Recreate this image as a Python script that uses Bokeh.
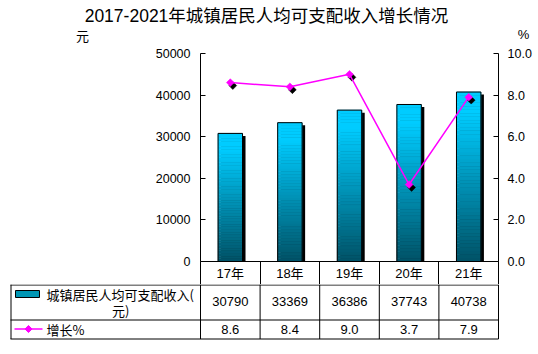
import math
from bokeh.plotting import figure
from bokeh.layouts import column
from bokeh.models import (Range1d, LinearAxis, FixedTicker, NumeralTickFormatter,
                          ColumnDataSource)
from bokeh.transform import dodge
from bokeh.core.properties import value
from bokeh.embed import file_html
from bokeh.resources import INLINE

# ---------------- data ----------------
title_text = "2017-2021年城镇居民人均可支配收入增长情况"
years = ["17年", "18年", "19年", "20年", "21年"]
income = [30790, 33369, 36386, 37743, 40738]
growth = [8.6, 8.4, 9.0, 3.7, 7.9]
income_ticks = [0, 10000, 20000, 30000, 40000, 50000]
growth_ticks = [0, 2, 4, 6, 8, 10]
income_name = "城镇居民人均可支配收入(元)"
growth_name = "增长%"
left_unit = "元"
right_unit = "%"

# ---------------- layout ----------------
W, H = 538, 354
TOPH = 44                       # header strip height
PL, PR, PT, PB, HB = 200, 498, 53, 261, 284
N = len(years)
COLW = (PR - PL) / N
YMAX = income_ticks[-1]
GMAX = growth_ticks[-1]
FH = PB - PT

def px2x(px):
    return -0.5 + (px - PL) / COLW

LATIN = "Liberation Sans, Noto Sans CJK SC"
CJK = "Noto Sans CJK SC"

def bare(fig):
    fig.xgrid.visible = False
    fig.ygrid.visible = False
    fig.background_fill_color = "white"
    fig.border_fill_color = "white"
    return fig

# ---------------- header strip ----------------
hdr = bare(figure(width=W, height=TOPH, x_range=Range1d(0, W), y_range=Range1d(TOPH, 0),
                  min_border=0, min_border_left=0, min_border_right=0, min_border_top=0,
                  min_border_bottom=0, toolbar_location=None, output_backend="svg",
                  x_axis_location=None, y_axis_location=None, outline_line_color=None,
                  frame_align=False))
hdr.text(x=[266], y=[15], text=[title_text], text_font=value(LATIN), text_font_size="17.5px",
         text_align="center", text_baseline="middle", text_color="black")
hdr.text(x=[82], y=[35], text=[left_unit], text_font=value(CJK), text_font_size="13px",
         text_align="center", text_baseline="middle", text_color="black")
hdr.text(x=[523], y=[34], text=[right_unit], text_font=value(LATIN), text_font_size="13px",
         text_align="center", text_baseline="middle", text_color="black")

# ---------------- chart ----------------
xs = list(range(N))
src = ColumnDataSource(dict(x=xs, top=income, g=growth))

p = bare(figure(width=W, height=HB - TOPH, x_range=Range1d(-0.5, N - 0.5),
                y_range=Range1d(0, YMAX),
                min_border_left=PL, min_border_right=W - PR, min_border_top=PT - TOPH,
                min_border_bottom=HB - PB, toolbar_location=None, output_backend="svg",
                x_axis_location=None, y_axis_location=None, outline_line_color=None,
                frame_align=False))
p.extra_y_ranges = {"pct": Range1d(0, GMAX)}

def style_axis(ax, standoff):
    ax.major_tick_in = 5
    ax.major_tick_out = 0
    ax.minor_tick_in = 0
    ax.minor_tick_out = 0
    ax.major_label_standoff = standoff
    ax.major_label_text_font = LATIN
    ax.major_label_text_font_size = "12.5px"
    ax.major_label_text_color = "black"
    ax.axis_line_color = "black"
    ax.major_tick_line_color = "black"

la = LinearAxis(ticker=FixedTicker(ticks=income_ticks, minor_ticks=[]),
                formatter=NumeralTickFormatter(format="0"))
style_axis(la, 10)
p.add_layout(la, "left")

ra = LinearAxis(y_range_name="pct", ticker=FixedTicker(ticks=growth_ticks, minor_ticks=[]),
                formatter=NumeralTickFormatter(format="0.0"))
style_axis(ra, 9)
p.add_layout(ra, "right")

ba = LinearAxis(ticker=FixedTicker(ticks=xs, minor_ticks=[i - 0.5 for i in range(N + 1)]),
                major_label_overrides={i: y for i, y in enumerate(years)})
ba.major_tick_in = 0
ba.major_tick_out = 0
ba.minor_tick_in = 0
ba.minor_tick_out = HB - PB
ba.minor_tick_line_color = "black"
ba.axis_line_color = "black"
ba.major_label_standoff = -(HB - PB) + 4
ba.major_label_text_font = LATIN
ba.major_label_text_font_size = "13px"
ba.major_label_text_color = "black"
p.add_layout(ba, "below")

# ---- bars: shadow, gradient, outline ----
BW = 0.41
p.vbar(x=dodge("x", 3 / COLW), top=dodge("top", -2.5 * YMAX / FH), bottom=0, width=BW,
       source=src, fill_color="black", line_color=None)

NS = 48
top_c = (0, 204, 255)
bot_c = (0, 82, 102)
gx, gb, gt, gc = [], [], [], []
for i, v in enumerate(income):
    for k in range(NS):
        tpos = 1 - (k + 0.5) / NS  # 0 at top, 1 at bottom
        tt = max(0.0, (tpos - 0.12) / 0.88)
        c = tuple(int(round(top_c[j] + (bot_c[j] - top_c[j]) * tt)) for j in range(3))
        gx.append(i)
        gb.append(v * k / NS)
        gt.append(v * (k + 1) / NS)
        gc.append("#%02x%02x%02x" % c)
p.vbar(x=gx, bottom=gb, top=gt, width=BW, fill_color=gc, line_color=gc, line_width=0.6)
p.vbar(x="x", top="top", bottom=0, width=BW, source=src, fill_color=None,
       line_color="black", line_width=1)

# ---- growth line ----
MS = 5.5
p.scatter(x=dodge("x", 2.5 / COLW), y=dodge("g", -3 * GMAX / FH), source=src,
          y_range_name="pct", marker="square", angle=math.pi / 4, size=MS,
          fill_color="black", line_color="black", line_width=0.5)
p.line(x="x", y="g", source=src, y_range_name="pct", line_color="#FF00FF", line_width=1.5)
p.scatter(x="x", y="g", source=src, y_range_name="pct", marker="square",
          angle=math.pi / 4, size=MS, fill_color="#FF00FF", line_color="#FF00FF",
          line_width=0.5)

# ---------------- table ----------------
TH = H - HB
t = bare(figure(width=W, height=TH, x_range=Range1d(px2x(0), px2x(W)), y_range=Range1d(TH, 0),
                min_border=0, min_border_left=0, min_border_right=0, min_border_top=0,
                min_border_bottom=0, toolbar_location=None, output_backend="svg",
                x_axis_location=None, y_axis_location=None, outline_line_color=None,
                frame_align=False))

R1, R2, R3 = 0.5, 35.5, 54.5
hx0 = [px2x(10)] * 3
hx1 = [px2x(PR)] * 3
t.segment(x0=hx0, x1=hx1, y0=[R1, R2, R3], y1=[R1, R2, R3], line_color="black", line_width=1)
vxs = [px2x(10.5)] + [i - 0.5 for i in range(N + 1)]
t.segment(x0=vxs, x1=vxs, y0=[0] * len(vxs), y1=[R3] * len(vxs), line_color="black", line_width=1)

t.text(x=xs, y=[17] * N, text=[str(v) for v in income], text_font=value(LATIN),
       text_font_size="13px", text_align="center", text_baseline="middle", text_color="black")
t.text(x=xs, y=[44.5] * N, text=["%.1f" % g for g in growth], text_font=value(LATIN),
       text_font_size="13px", text_align="center", text_baseline="middle", text_color="black")

# legend row 1
t.quad(left=[px2x(15)], right=[px2x(39)], top=[6], bottom=[13], fill_color="#0096b4",
       line_color="black", line_width=1)
t.text(x=[px2x(46)], y=[9.5], text=[income_name[:12]], text_font=value(CJK),
       text_font_size="13px", text_align="left", text_baseline="middle", text_color="black")
t.text(x=[px2x(129)], y=[25.5], text=[income_name[12:]], text_font=value(CJK),
       text_font_size="13px", text_align="right", text_baseline="middle", text_color="black")
# legend row 2
t.line(x=[px2x(14), px2x(42)], y=[44.5, 44.5], line_color="#FF00FF", line_width=1.5)
t.scatter(x=[px2x(28)], y=[44.5], marker="square", angle=math.pi / 4, size=5,
          fill_color="#FF00FF", line_color="#FF00FF")
t.text(x=[px2x(46)], y=[44.5], text=[growth_name], text_font=value(CJK),
       text_font_size="13px", text_align="left", text_baseline="middle", text_color="black")

layout = column(hdr, p, t, spacing=0)
open("out.html", "w").write(file_html(layout, INLINE))
